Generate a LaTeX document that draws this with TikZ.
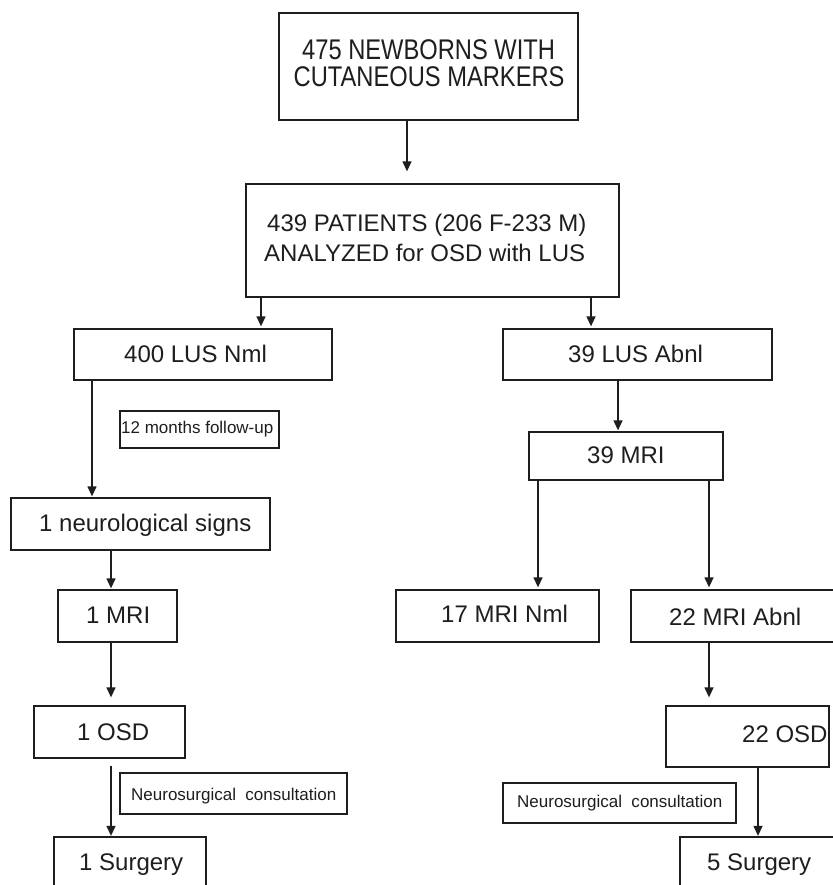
\documentclass[tikz,border=0pt]{standalone}
\usepackage{fontspec}
\setmainfont{Liberation Sans}
\usetikzlibrary{arrows.meta}
\definecolor{ink}{HTML}{1E1E1E}
\tikzset{
  box/.style={draw=ink, line width=1.3pt, inner sep=0pt, fill=none},
  big/.style={anchor=base west, inner sep=0pt, text=ink, font=\fontsize{24}{28}\selectfont},
  top/.style={anchor=base west, inner sep=0pt, text depth=0pt, text=ink, font=\fontsize{23.7}{28}\selectfont},
  small/.style={anchor=base west, inner sep=0pt, text=ink, font=\fontsize{17}{20}\selectfont},
  arr/.style={draw=ink, line width=1.3pt, -{Triangle[length=10pt,width=9pt]}},
}
\begin{document}
\begin{tikzpicture}[x=1pt,y=-1pt]
\useasboundingbox (0,0) rectangle (832,885);
\fill[white] (0,0) rectangle (832,885);
% boxes
\node[box, minimum width=299pt, minimum height=107pt] (b1) at (428.5,66.5) {};
\node[box, minimum width=373pt, minimum height=113pt] (b2) at (432.5,240.5) {};
\node[box, minimum width=258pt, minimum height=51pt] (b3) at (203,354.5) {};
\node[box, minimum width=269pt, minimum height=51pt] (b4) at (637.5,354.5) {};
\node[box, minimum width=159pt, minimum height=37pt] (fu) at (199.5,429.5) {};
\node[box, minimum width=194pt, minimum height=48pt] (b5) at (626,456) {};
\node[box, minimum width=259pt, minimum height=52pt] (b6) at (140.5,524) {};
\node[box, minimum width=119pt, minimum height=52pt] (b7) at (117.5,616) {};
\node[box, minimum width=151pt, minimum height=52pt] (b8) at (109.5,732) {};
\node[box, minimum width=152pt, minimum height=68pt] (b9) at (130,871) {};
\node[box, minimum width=227pt, minimum height=41pt] (ns1) at (233.5,793.5) {};
\node[box, minimum width=203pt, minimum height=52pt] (b10) at (497.5,616) {};
\node[box, minimum width=204pt, minimum height=52pt] (b11) at (733,616) {};
\node[box, minimum width=163pt, minimum height=61pt] (b12) at (747.5,736.5) {};
\node[box, minimum width=155pt, minimum height=68pt] (b13) at (757.5,871) {};
\node[box, minimum width=233pt, minimum height=40pt] (ns2) at (619.5,803) {};
% texts
\node[top] (t1a) at (302,60) {\scalebox{1}[1.2]{475 NEWBORNS WITH}};
\node[top] (t1b) at (293.5,86.7) {\scalebox{1}[1.2]{CUTANEOUS MARKERS}};
\node[big] (t2a) at (267,232) {439 PATIENTS (206 F-233 M)};
\node[big] (t2b) at (264,261) {ANALYZED for OSD with LUS};
\node[big] (t3) at (124,362.3) {400 LUS Nml};
\node[big] (t4) at (568,362.3) {39 LUS Abnl};
\node[small] (tfu) at (121,433.3) {12 months follow-up};
\node[big] (t5) at (587,463) {39 MRI};
\node[big] (t6) at (39,531.7) {1 neurological signs};
\node[big] (t7) at (86,623.3) {1 MRI};
\node[big] (t8) at (77,740) {1 OSD};
\node[small] (tns1) at (131,800) {Neurosurgical~~consultation};
\node[big] (t9) at (79,870.7) {1 Surgery};
\node[big] (t10) at (441,622.7) {17 MRI Nml};
\node[big] (t11) at (669,625.7) {22 MRI Abnl};
\node[big] (t12) at (742,742.3) {22 OSD};
\node[small] (tns2) at (517,807.3) {Neurosurgical~~consultation};
\node[big] (t13) at (707,870.7) {5 Surgery};
% connectors
\draw[arr, shorten >=12pt] ([xshift=-21.5pt]b1.south) -- ([xshift=-21.5pt]b1.south |- b2.north);
\draw[arr, shorten >=2pt] ([xshift=-171.5pt]b2.south) -- ([xshift=-171.5pt]b2.south |- b3.north);
\draw[arr, shorten >=2pt] ([xshift=158.5pt]b2.south) -- ([xshift=158.5pt]b2.south |- b4.north);
\draw[arr, shorten >=1pt] ([xshift=-19.5pt]b4.south) -- ([xshift=-19.5pt]b4.south |- b5.north);
\draw[arr, shorten >=1pt] ([xshift=-111pt]b3.south) -- ([xshift=-111pt]b3.south |- b6.north);
\draw[arr, shorten >=1pt] ([xshift=-29.5pt]b6.south) -- ([xshift=-29.5pt]b6.south |- b7.north);
\draw[arr, shorten >=8pt] ([xshift=-6.5pt]b7.south) -- ([xshift=-6.5pt]b7.south |- b8.north);
\draw[arr, shorten <=7pt, shorten >=0.5pt] ([xshift=1.5pt]b8.south) -- ([xshift=1.5pt]b8.south |- b9.north);
\draw[arr, shorten >=2pt] ([xshift=-88pt]b5.south) -- ([xshift=-88pt]b5.south |- b10.north);
\draw[arr, shorten >=2pt] ([xshift=83pt]b5.south) -- ([xshift=83pt]b5.south |- b11.north);
\draw[arr, shorten >=8pt] ([xshift=-24pt]b11.south) -- ([xshift=-24pt]b11.south |- b12.north);
\draw[arr, shorten >=0.5pt] ([xshift=10.5pt]b12.south) -- ([xshift=10.5pt]b12.south |- b13.north);
\end{tikzpicture}
\end{document}
